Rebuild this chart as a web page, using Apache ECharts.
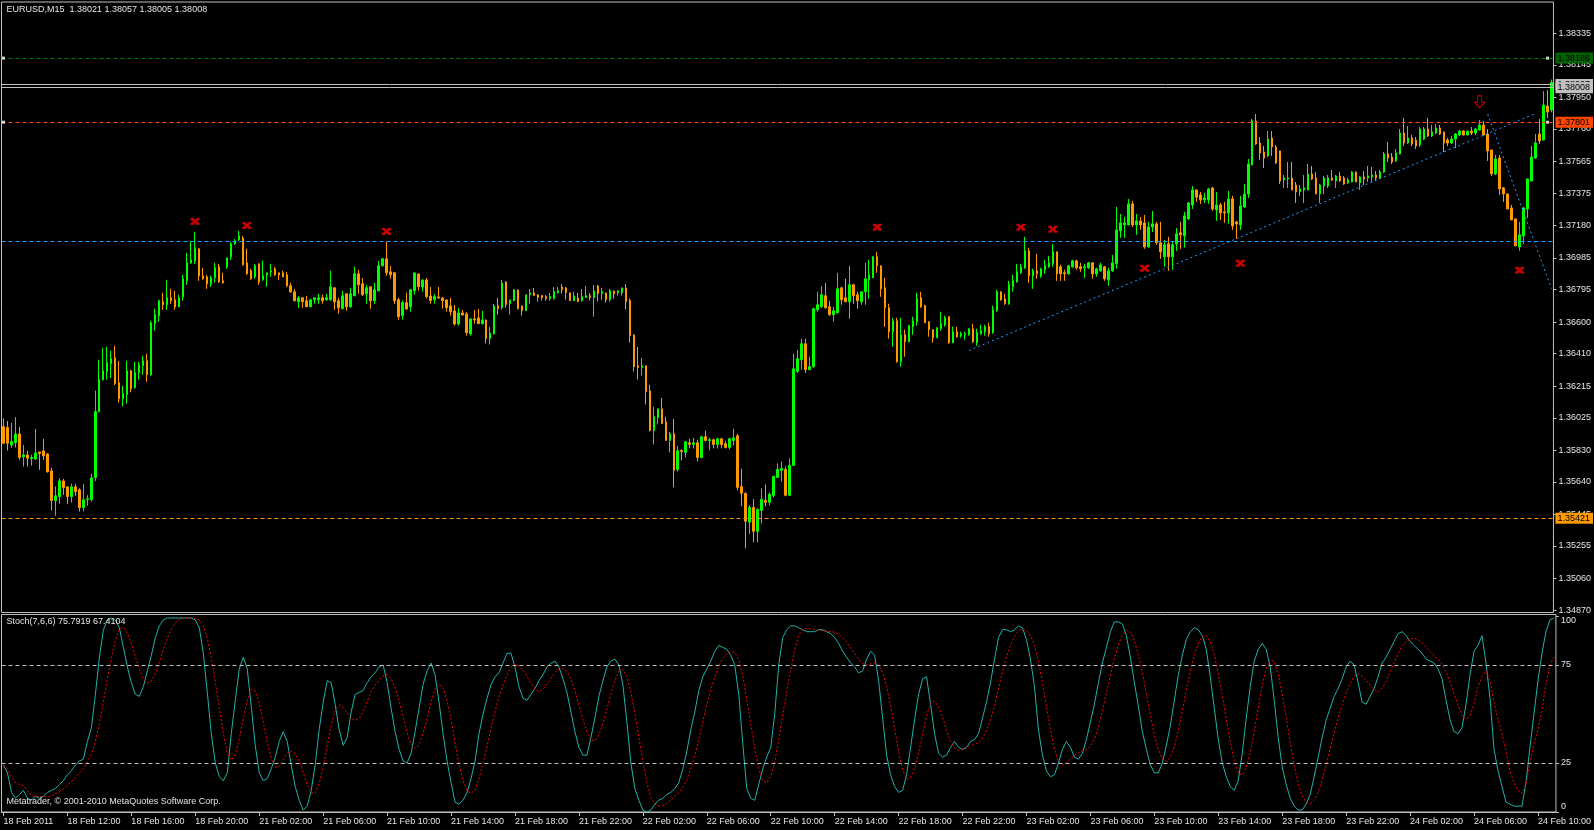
<!DOCTYPE html>
<html><head><meta charset="utf-8">
<script src="https://cdn.jsdelivr.net/npm/echarts@6/dist/echarts.min.js"></script>
<style>html,body{margin:0;padding:0;background:#000;}#c{width:1594px;height:830px;}</style>
</head><body><div id="c"></div>
<script>
// ---- DATA ----
const opens = [
1.35972,1.35966,1.35862,1.35876,1.35928,1.35790,1.35802,1.35780,1.35778,1.35820,
1.35826,1.35808,1.35706,1.35528,1.35552,1.35646,1.35610,1.35552,1.35610,1.35592,
1.35486,1.35534,1.35534,1.35666,1.36062,1.36254,1.36302,1.36350,1.36386,1.36236,
1.36140,1.36164,1.36308,1.36206,1.36296,1.36338,1.36368,1.36284,1.36590,1.36638,
1.36722,1.36704,1.36746,1.36734,1.36692,1.36752,1.36848,1.36956,1.36968,1.37040,
1.36878,1.36872,1.36830,1.36866,1.36932,1.36848,1.36932,1.36992,1.37070,1.37094,
1.37106,1.36956,1.36908,1.36872,1.36950,1.36854,1.36884,1.36902,1.36920,1.36896,
1.36896,1.36884,1.36818,1.36782,1.36722,1.36746,1.36728,1.36692,1.36734,1.36734,
1.36746,1.36734,1.36734,1.36806,1.36728,1.36680,1.36770,1.36692,1.36758,1.36890,
1.36830,1.36770,1.36812,1.36728,1.36788,1.36938,1.36980,1.36902,1.36896,1.36734,
1.36639,1.36717,1.36693,1.36789,1.36889,1.36811,1.36853,1.36757,1.36735,1.36751,
1.36745,1.36733,1.36697,1.36667,1.36589,1.36655,1.36649,1.36529,1.36619,1.36625,
1.36591,1.36613,1.36501,1.36529,1.36697,1.36687,1.36841,1.36711,1.36729,1.36793,
1.36697,1.36669,1.36765,1.36775,1.36763,1.36759,1.36753,1.36741,1.36741,1.36777,
1.36811,1.36805,1.36775,1.36729,1.36745,1.36729,1.36747,1.36759,1.36747,1.36817,
1.36771,1.36775,1.36735,1.36787,1.36777,1.36777,1.36805,1.36729,1.36523,1.36337,
1.36327,1.36337,1.36187,1.35949,1.36025,1.36079,1.36001,1.35889,1.35929,1.35715,
1.35829,1.35817,1.35875,1.35865,1.35875,1.35787,1.35911,1.35887,1.35893,1.35865,
1.35899,1.35869,1.35847,1.35889,1.35917,1.35611,1.35571,1.35397,1.35487,1.35343,
1.35469,1.35529,1.35517,1.35559,1.35667,1.35709,1.35715,1.35559,1.35739,1.36304,
1.36374,1.36470,1.36314,1.36332,1.36674,1.36692,1.36758,1.36692,1.36644,1.36656,
1.36806,1.36746,1.36722,1.36824,1.36764,1.36722,1.36782,1.36854,1.36866,1.36992,
1.36938,1.36806,1.36686,1.36542,1.36608,1.36362,1.36524,1.36482,1.36572,1.36602,
1.36746,1.36698,1.36602,1.36554,1.36506,1.36560,1.36584,1.36632,1.36476,1.36542,
1.36518,1.36524,1.36524,1.36560,1.36476,1.36530,1.36542,1.36572,1.36536,1.36668,
1.36782,1.36740,1.36710,1.36812,1.36842,1.36896,1.36926,1.37028,1.36878,1.36908,
1.36878,1.36914,1.36932,1.36950,1.37022,1.36932,1.36896,1.36890,1.36932,1.36968,
1.36932,1.36926,1.36926,1.36956,1.36890,1.36908,1.36932,1.36854,1.36908,1.36950,
1.37148,1.37184,1.37184,1.37310,1.37184,1.37208,1.37196,1.37052,1.37172,1.37190,
1.37076,1.36992,1.37070,1.36992,1.37070,1.37136,1.37118,1.37220,1.37304,1.37394,
1.37364,1.37334,1.37334,1.37406,1.37274,1.37304,1.37262,1.37256,1.37340,1.37202,
1.37184,1.37292,1.37370,1.37544,1.37808,1.37676,1.37622,1.37598,1.37706,1.37652,
1.37628,1.37454,1.37460,1.37466,1.37424,1.37382,1.37394,1.37394,1.37490,1.37466,
1.37370,1.37418,1.37418,1.37466,1.37448,1.37478,1.37466,1.37436,1.37442,1.37502,
1.37436,1.37472,1.37466,1.37472,1.37484,1.37466,1.37502,1.37610,1.37592,1.37568,
1.37610,1.37736,1.37676,1.37706,1.37694,1.37664,1.37700,1.37760,1.37718,1.37736,
1.37766,1.37742,1.37694,1.37676,1.37700,1.37724,1.37748,1.37724,1.37748,1.37736,
1.37754,1.37784,1.37730,1.37634,1.37490,1.37586,1.37406,1.37370,1.37286,1.37220,
1.37052,1.37118,1.37280,1.37448,1.37586,1.37730,1.37694,1.37898,1.37874];
const highs = [
1.36022,1.36006,1.35996,1.36030,1.35970,1.35862,1.35828,1.35802,1.35958,1.35820,
1.35898,1.35812,1.35724,1.35612,1.35662,1.35658,1.35610,1.35628,1.35628,1.35602,
1.35628,1.35560,1.35688,1.36188,1.36374,1.36446,1.36452,1.36428,1.36458,1.36366,
1.36218,1.36368,1.36314,1.36362,1.36362,1.36398,1.36410,1.36608,1.36680,1.36734,
1.36776,1.36854,1.36800,1.36788,1.36764,1.36884,1.37016,1.37088,1.37142,1.37046,
1.36926,1.36884,1.36878,1.36956,1.36950,1.36896,1.36986,1.37082,1.37100,1.37148,
1.37118,1.37040,1.36920,1.36950,1.36952,1.36968,1.36898,1.36950,1.36932,1.36898,
1.36908,1.36902,1.36836,1.36800,1.36758,1.36748,1.36758,1.36740,1.36748,1.36770,
1.36764,1.36770,1.36908,1.36808,1.36746,1.36788,1.36772,1.36806,1.36932,1.36914,
1.36866,1.36824,1.36814,1.36836,1.36968,1.36986,1.37082,1.36938,1.36902,1.36746,
1.36729,1.36777,1.36799,1.36897,1.36891,1.36855,1.36865,1.36811,1.36769,1.36811,
1.36751,1.36735,1.36745,1.36703,1.36685,1.36673,1.36661,1.36621,1.36673,1.36679,
1.36667,1.36615,1.36571,1.36709,1.36745,1.36853,1.36847,1.36735,1.36799,1.36795,
1.36699,1.36765,1.36799,1.36805,1.36769,1.36763,1.36763,1.36775,1.36811,1.36811,
1.36829,1.36811,1.36777,1.36781,1.36775,1.36799,1.36817,1.36775,1.36823,1.36823,
1.36805,1.36777,1.36799,1.36789,1.36793,1.36807,1.36829,1.36741,1.36525,1.36451,
1.36385,1.36339,1.36223,1.36091,1.36081,1.36145,1.36031,1.35941,1.36019,1.35857,
1.35835,1.35887,1.35899,1.35905,1.35893,1.35917,1.35947,1.35905,1.35899,1.35905,
1.35901,1.35887,1.35905,1.35959,1.35929,1.35719,1.35577,1.35499,1.35535,1.35481,
1.35601,1.35625,1.35577,1.35675,1.35751,1.35763,1.35733,1.35781,1.36410,1.36434,
1.36500,1.36500,1.36392,1.36686,1.36782,1.36818,1.36836,1.36728,1.36692,1.36896,
1.36812,1.36860,1.36938,1.36830,1.36782,1.36784,1.36956,1.36974,1.36998,1.37022,
1.36940,1.36866,1.36710,1.36626,1.36626,1.36626,1.36554,1.36584,1.36632,1.36776,
1.36782,1.36704,1.36604,1.36556,1.36568,1.36662,1.36638,1.36634,1.36572,1.36572,
1.36542,1.36542,1.36562,1.36590,1.36560,1.36584,1.36584,1.36596,1.36698,1.36794,
1.36784,1.36770,1.36848,1.36884,1.36950,1.36950,1.37112,1.37046,1.36920,1.37010,
1.36926,1.36974,1.36998,1.37070,1.37024,1.36944,1.36914,1.36944,1.36974,1.36974,
1.36956,1.36950,1.36962,1.36958,1.36926,1.36956,1.36938,1.36926,1.37004,1.37292,
1.37250,1.37232,1.37340,1.37328,1.37250,1.37232,1.37244,1.37202,1.37268,1.37202,
1.37202,1.37094,1.37112,1.37082,1.37166,1.37202,1.37262,1.37322,1.37418,1.37396,
1.37382,1.37376,1.37406,1.37412,1.37382,1.37316,1.37322,1.37388,1.37358,1.37208,
1.37358,1.37430,1.37580,1.37820,1.37850,1.37712,1.37658,1.37748,1.37748,1.37664,
1.37630,1.37484,1.37562,1.37562,1.37442,1.37424,1.37484,1.37550,1.37538,1.37502,
1.37430,1.37478,1.37484,1.37514,1.37484,1.37502,1.37478,1.37466,1.37508,1.37504,
1.37478,1.37508,1.37538,1.37532,1.37508,1.37514,1.37622,1.37682,1.37616,1.37640,
1.37760,1.37826,1.37778,1.37724,1.37712,1.37772,1.37772,1.37826,1.37784,1.37790,
1.37784,1.37744,1.37706,1.37718,1.37736,1.37754,1.37754,1.37750,1.37772,1.37766,
1.37814,1.37808,1.37760,1.37636,1.37604,1.37604,1.37412,1.37372,1.37304,1.37222,
1.37202,1.37292,1.37462,1.37658,1.37730,1.37820,1.37988,1.37994,1.38057];
const lows = [
1.35868,1.35828,1.35846,1.35846,1.35772,1.35732,1.35732,1.35738,1.35772,1.35712,
1.35772,1.35696,1.35468,1.35436,1.35508,1.35562,1.35508,1.35516,1.35556,1.35462,
1.35462,1.35496,1.35522,1.35644,1.36058,1.36250,1.36254,1.36264,1.36222,1.36116,
1.36094,1.36110,1.36178,1.36200,1.36254,1.36284,1.36242,1.36278,1.36548,1.36602,
1.36674,1.36674,1.36710,1.36674,1.36690,1.36728,1.36824,1.36950,1.36950,1.36848,
1.36854,1.36800,1.36812,1.36836,1.36836,1.36830,1.36920,1.36974,1.37064,1.37088,
1.36940,1.36884,1.36854,1.36860,1.36824,1.36848,1.36812,1.36872,1.36878,1.36854,
1.36870,1.36812,1.36776,1.36726,1.36686,1.36686,1.36690,1.36690,1.36710,1.36710,
1.36710,1.36728,1.36728,1.36674,1.36650,1.36678,1.36668,1.36686,1.36756,1.36770,
1.36758,1.36710,1.36680,1.36710,1.36786,1.36936,1.36878,1.36860,1.36710,1.36614,
1.36615,1.36673,1.36663,1.36765,1.36789,1.36783,1.36741,1.36711,1.36711,1.36741,
1.36681,1.36663,1.36639,1.36579,1.36579,1.36639,1.36519,1.36519,1.36591,1.36589,
1.36585,1.36471,1.36465,1.36527,1.36645,1.36675,1.36687,1.36645,1.36727,1.36675,
1.36639,1.36667,1.36711,1.36757,1.36723,1.36729,1.36729,1.36729,1.36735,1.36771,
1.36771,1.36735,1.36727,1.36727,1.36721,1.36723,1.36745,1.36729,1.36633,1.36723,
1.36733,1.36717,1.36723,1.36741,1.36759,1.36759,1.36675,1.36477,1.36303,1.36255,
1.36279,1.36105,1.35943,1.35865,1.35985,1.35989,1.35887,1.35817,1.35607,1.35703,
1.35769,1.35787,1.35841,1.35841,1.35763,1.35781,1.35883,1.35829,1.35841,1.35841,
1.35841,1.35841,1.35835,1.35859,1.35589,1.35493,1.35241,1.35327,1.35277,1.35277,
1.35391,1.35493,1.35499,1.35547,1.35665,1.35643,1.35553,1.35557,1.35735,1.36294,
1.36314,1.36294,1.36312,1.36326,1.36662,1.36686,1.36680,1.36638,1.36602,1.36654,
1.36704,1.36720,1.36620,1.36710,1.36680,1.36704,1.36704,1.36740,1.36864,1.36896,
1.36752,1.36572,1.36500,1.36452,1.36356,1.36332,1.36392,1.36480,1.36524,1.36578,
1.36686,1.36594,1.36512,1.36476,1.36504,1.36548,1.36572,1.36470,1.36474,1.36506,
1.36506,1.36494,1.36518,1.36476,1.36458,1.36524,1.36518,1.36512,1.36530,1.36662,
1.36728,1.36704,1.36704,1.36782,1.36836,1.36890,1.36920,1.36836,1.36800,1.36860,
1.36866,1.36890,1.36926,1.36932,1.36848,1.36848,1.36848,1.36884,1.36926,1.36914,
1.36902,1.36866,1.36920,1.36860,1.36872,1.36902,1.36848,1.36818,1.36902,1.36920,
1.37106,1.37106,1.37182,1.37172,1.37124,1.37154,1.37040,1.37046,1.37142,1.37064,
1.36980,1.36932,1.36908,1.36914,1.37028,1.37040,1.37048,1.37214,1.37280,1.37322,
1.37310,1.37316,1.37310,1.37268,1.37208,1.37214,1.37196,1.37190,1.37154,1.37100,
1.37154,1.37286,1.37346,1.37542,1.37664,1.37574,1.37526,1.37592,1.37598,1.37550,
1.37430,1.37406,1.37406,1.37392,1.37316,1.37358,1.37316,1.37392,1.37454,1.37368,
1.37316,1.37370,1.37406,1.37448,1.37406,1.37442,1.37424,1.37430,1.37440,1.37440,
1.37394,1.37424,1.37442,1.37442,1.37454,1.37460,1.37496,1.37562,1.37550,1.37562,
1.37608,1.37658,1.37670,1.37658,1.37640,1.37652,1.37694,1.37712,1.37712,1.37730,
1.37724,1.37622,1.37658,1.37670,1.37646,1.37718,1.37722,1.37722,1.37724,1.37724,
1.37752,1.37722,1.37568,1.37478,1.37484,1.37364,1.37322,1.37278,1.37212,1.37056,
1.37028,1.37070,1.37226,1.37446,1.37580,1.37670,1.37692,1.37826,1.37860];
const closes = [
1.35872,1.35872,1.35882,1.35928,1.35786,1.35802,1.35782,1.35786,1.35814,1.35810,
1.35796,1.35700,1.35528,1.35556,1.35646,1.35606,1.35552,1.35610,1.35582,1.35486,
1.35532,1.35538,1.35664,1.36062,1.36254,1.36308,1.36356,1.36380,1.36230,1.36140,
1.36170,1.36308,1.36200,1.36296,1.36344,1.36368,1.36284,1.36596,1.36644,1.36728,
1.36704,1.36746,1.36728,1.36692,1.36746,1.36860,1.36956,1.36974,1.37046,1.36878,
1.36860,1.36830,1.36866,1.36926,1.36842,1.36836,1.36986,1.37070,1.37088,1.37118,
1.36944,1.36890,1.36860,1.36938,1.36842,1.36878,1.36896,1.36908,1.36884,1.36884,
1.36872,1.36818,1.36782,1.36728,1.36746,1.36722,1.36692,1.36734,1.36746,1.36746,
1.36728,1.36746,1.36812,1.36722,1.36686,1.36758,1.36692,1.36770,1.36890,1.36824,
1.36764,1.36806,1.36728,1.36794,1.36938,1.36980,1.36896,1.36884,1.36728,1.36632,
1.36717,1.36679,1.36793,1.36895,1.36813,1.36853,1.36753,1.36729,1.36753,1.36745,
1.36729,1.36687,1.36663,1.36589,1.36655,1.36643,1.36537,1.36619,1.36613,1.36591,
1.36613,1.36501,1.36535,1.36697,1.36681,1.36835,1.36705,1.36733,1.36793,1.36681,
1.36669,1.36763,1.36775,1.36759,1.36747,1.36747,1.36741,1.36753,1.36783,1.36789,
1.36795,1.36777,1.36729,1.36757,1.36723,1.36753,1.36759,1.36747,1.36787,1.36771,
1.36783,1.36735,1.36789,1.36771,1.36787,1.36805,1.36723,1.36519,1.36333,1.36327,
1.36337,1.36183,1.35949,1.36031,1.36079,1.35991,1.35889,1.35929,1.35709,1.35827,
1.35823,1.35881,1.35865,1.35875,1.35787,1.35911,1.35889,1.35893,1.35865,1.35899,
1.35865,1.35847,1.35899,1.35905,1.35607,1.35571,1.35403,1.35487,1.35343,1.35475,
1.35535,1.35517,1.35565,1.35673,1.35715,1.35721,1.35559,1.35739,1.36319,1.36380,
1.36470,1.36314,1.36332,1.36680,1.36704,1.36764,1.36686,1.36644,1.36668,1.36800,
1.36734,1.36722,1.36824,1.36758,1.36728,1.36782,1.36860,1.36884,1.36992,1.36938,
1.36800,1.36686,1.36542,1.36608,1.36362,1.36524,1.36482,1.36578,1.36608,1.36740,
1.36692,1.36596,1.36554,1.36506,1.36566,1.36590,1.36626,1.36476,1.36542,1.36512,
1.36530,1.36530,1.36560,1.36482,1.36536,1.36548,1.36572,1.36530,1.36674,1.36782,
1.36734,1.36710,1.36824,1.36848,1.36902,1.36932,1.37028,1.36878,1.36908,1.36890,
1.36920,1.36938,1.36956,1.37022,1.36890,1.36890,1.36890,1.36938,1.36968,1.36926,
1.36920,1.36932,1.36956,1.36890,1.36920,1.36944,1.36860,1.36908,1.36956,1.37154,
1.37196,1.37196,1.37310,1.37184,1.37208,1.37184,1.37052,1.37172,1.37190,1.37076,
1.37022,1.37064,1.36992,1.37064,1.37130,1.37124,1.37238,1.37316,1.37394,1.37350,
1.37334,1.37346,1.37400,1.37280,1.37304,1.37256,1.37256,1.37340,1.37178,1.37190,
1.37298,1.37370,1.37550,1.37808,1.37670,1.37616,1.37586,1.37700,1.37652,1.37556,
1.37448,1.37466,1.37466,1.37394,1.37382,1.37400,1.37406,1.37490,1.37460,1.37370,
1.37424,1.37466,1.37466,1.37454,1.37478,1.37448,1.37430,1.37454,1.37502,1.37442,
1.37472,1.37460,1.37478,1.37484,1.37466,1.37502,1.37610,1.37586,1.37562,1.37616,
1.37736,1.37676,1.37706,1.37670,1.37658,1.37760,1.37760,1.37718,1.37742,1.37766,
1.37730,1.37676,1.37676,1.37700,1.37730,1.37748,1.37724,1.37748,1.37736,1.37760,
1.37784,1.37724,1.37628,1.37490,1.37580,1.37400,1.37370,1.37280,1.37214,1.37058,
1.37124,1.37286,1.37460,1.37592,1.37676,1.37688,1.37904,1.37862,1.38040];

// Stochastic (7,6,6): main line and signal line, one value per bar
const stochK = [
24,20,10,7,9,11,7,6,8,7,
8,10,11,12,14,16,19,21,24,26,
27,36,43,60,79,93,98,99,98,94,
84,74,66,60,59,64,72,80,89,95,
98,99,99,99,99,99,99,99,98,94,
81,61,40,25,18,16,20,40,57,73,
79,73,54,34,20,16,17,22,28,36,
41,36,24,13,6,1,3,11,24,42,
56,67,66,55,42,34,38,51,60,61,
62,66,69,71,74,75,66,53,41,32,
26,25,30,41,53,65,72,76,70,56,
40,26,15,5,4,6,10,17,26,40,
50,58,65,69,71,76,81,81,74,64,
58,57,60,63,67,70,74,76,77,74,
68,61,51,41,33,29,29,38,48,59,
67,74,77,78,75,65,46,25,12,6,
1,0,1,4,6,7,9,10,12,15,
22,31,42,51,62,69,73,77,82,85,
84,83,80,75,60,35,12,7,6,14,
22,28,33,50,75,89,93,95,95,94,
93,92,92,92,93,93,92,91,89,86,
82,79,76,74,71,72,78,82,80,67,
48,29,19,13,10,11,19,33,47,60,
68,69,55,40,30,28,29,33,36,33,
32,33,36,37,40,48,56,66,78,89,
93,93,92,93,95,94,88,78,64,42,
29,21,18,19,25,32,36,33,28,27,
30,37,46,55,66,76,84,92,97,97,
96,90,79,66,54,41,32,24,20,20,
25,34,44,57,70,80,88,92,94,93,
90,83,69,53,37,25,18,13,11,16,
30,48,64,77,83,86,83,74,57,38,
23,14,7,3,1,1,4,9,18,28,
38,47,53,59,63,68,74,77,75,66,
56,55,59,63,69,76,79,83,87,91,
92,90,87,85,83,81,78,77,76,73,
68,57,47,41,40,43,55,70,82,85,
90,76,58,32,21,13,5,4,3,3,
3,15,33,50,67,81,92,98,99];
const stochD = [
24,22,18,15,14,13.5,10.7,8.3,8,8,
7.8,7.7,8.3,9.3,10.3,11.8,13.7,15.5,17.7,20,
22.2,25.5,29.5,36,45.2,56.3,68.2,78.7,87.8,93.5,
94.3,91.2,85.8,79.3,72.8,67.8,65.8,66.8,70.7,76.5,
83,88.8,93.3,96.5,98.2,98.8,99,99,98.8,98,
95,88.7,78.8,66.5,53.2,40.2,30,26.5,29.3,37.3,
47.5,57,62.7,61.7,55.5,46,35.7,27.2,22.8,23.2,
26.7,30,31.2,29.7,26,20.2,13.8,9.7,9.7,14.5,
22.8,33.8,44.3,51.7,54.7,53.3,50.3,47.7,46.7,47.7,
51,56.3,61.5,64.8,67.2,69.5,70.2,68,63.3,56.8,
48.8,40.5,34.5,32.5,34.5,40,47.7,56.2,62.8,65.3,
63.2,56.7,47.2,35.3,24.3,16,11,9.5,11.3,17.2,
24.8,33.5,42.7,51.3,58.8,64.8,70,73.8,75.3,74.5,
72.3,69.2,65.7,62.7,61.5,62.5,65.2,68.3,71.2,73,
73.2,71.7,67.8,62,54.7,47.2,40.7,36.8,36.3,39.3,
45,52.5,60.5,67.2,71.7,72.7,69.2,61,50.2,38.2,
25.8,15,7.5,4,3,3.2,4.5,6.2,8,9.8,
12.5,16.5,22,28.8,37.2,46.2,54.7,62.3,69,74.7,
78.3,80.7,81.8,81.5,77.8,69.5,57.5,44.8,32.5,22.3,
16,14.8,18.3,25.5,37,49.5,61.3,72.5,82.8,90.2,
93.2,93.7,93.5,93,92.7,92.5,92.3,92.2,91.7,90.7,
88.8,86.5,83.8,81,78,75.7,75,75.5,76.2,75,
71.2,64,54.2,42.7,31,21.7,16.8,17.5,22.2,30,
39.7,49.3,55.3,56.5,53.7,48.3,41.8,35.8,32.7,31.5,
31.8,32.7,33.8,34.5,35.2,37.7,41.7,47.2,54.2,62.8,
71.7,79.2,85.2,89.7,92.5,93.3,92.5,90,85.3,76.8,
65.8,53.7,42,32.2,25.7,24,25.2,27.2,28.8,30.2,
31,31.8,33.5,37.2,43.5,51.7,60.7,69.8,78.3,85.3,
90.3,92.7,91.8,87.5,80.3,71,60.3,49.3,39.5,31.8,
27,25.8,27.8,33.3,41.7,51.7,62.2,71.8,80.2,86.2,
89.5,90,86.8,80.3,70.8,59.5,47.5,35.8,26.2,20,
18.8,22.7,30.3,41,53,64.7,73.5,77.8,76.7,70.2,
60.2,48.2,35.5,23.7,14.3,8.2,5,4.2,6,10.2,
16.3,24,32.2,40.5,48,54.7,60.7,65.7,69.3,70.5,
69.3,67.2,64.7,62.3,61.3,63,66.8,71.5,76.2,80.8,
84.7,87,88.3,88.7,88,86.3,84,81.8,80,78,
75.5,71.5,66.3,60.3,54.3,49.3,47.2,49.3,55.2,64,
69,72,67,56,47,40,31,21,15,11,
9.5,14,25,35,42,52,65,75,79];

const xTickLabels = ['18 Feb 2011','18 Feb 12:00','18 Feb 16:00','18 Feb 20:00','21 Feb 02:00','21 Feb 06:00',
 '21 Feb 10:00','21 Feb 14:00','21 Feb 18:00','21 Feb 22:00','22 Feb 02:00','22 Feb 06:00','22 Feb 10:00',
 '22 Feb 14:00','22 Feb 18:00','22 Feb 22:00','23 Feb 02:00','23 Feb 06:00','23 Feb 10:00','23 Feb 14:00',
 '23 Feb 18:00','23 Feb 22:00','24 Feb 02:00','24 Feb 06:00','24 Feb 10:00'];
const priceTickLabels = ['1.34870','1.35060','1.35255','1.35445','1.35640','1.35830','1.36025','1.36215',
 '1.36410','1.36600','1.36795','1.36985','1.37180','1.37375','1.37565','1.37760','1.37950','1.38145','1.38335'];
const stochTickLabels = ['0','25','75','100'];

// horizontal price levels: green, ask, bid, orange-red, blue, orange
const levelPrices = [1.38186, 1.38027, 1.38008, 1.37801, 1.37087, 1.35421];
const levelLabels = ['1.38186', '1.38027', '1.38008', '1.37801', '', '1.35421'];
// trend lines [barIndex, price]
const trend1 = [[242, 1.36429], [384, 1.37853]];
const trend2 = [[372, 1.37850], [388, 1.36801]];
// red marks
const markBars = [48, 61, 96, 219, 255, 263, 286, 310, 380];
const markPrices = [1.37204, 1.37180, 1.37144, 1.37170, 1.37170, 1.37158, 1.36924, 1.36954, 1.36912];
const arrowBar = [370];
const arrowPrice = [1.37924];
const stochLevels = [25, 75];

const titleText = 'EURUSD,M15  1.38021 1.38057 1.38005 1.38008';
const stochTitle = 'Stoch(7,6,6) 75.7919 67.4104';
const footer = 'Metatrader, \u00a9 2001-2010 MetaQuotes Software Corp.';

// ---- CHART ----
const FONT = 'Liberation Sans';
const TXT = '#e4e4e4';
const BORDER = '#c0c0c0';
const cats = opens.map((_, i) => String(i));
const candleData = opens.map((o, i) => [o, closes[i], lows[i], highs[i]]);

const levelStyles = [
  {color: '#008000', type: [4, 3], bg: '#006400'},
  {color: '#c0c0c0', type: 'solid', bg: '#c0c0c0'},
  {color: '#c0c0c0', type: 'solid', bg: '#c0c0c0'},
  {color: '#ff4a10', type: [4, 3], bg: '#ff4500'},
  {color: '#1e9eff', type: [4, 3], bg: null},
  {color: '#ff9900', type: [4, 3], bg: '#ff9900'}
];
const levelMarks = levelPrices.map((p, i) => {
  const s = levelStyles[i];
  return {
    yAxis: p,
    lineStyle: {color: s.color, type: s.type, width: 1},
    label: levelLabels[i] ? {show: true, position: 'end', distance: 2, formatter: levelLabels[i],
      backgroundColor: s.bg, color: '#000', fontSize: 9, fontFamily: FONT, padding: [1, 3, 0, 2], lineHeight: 10} : {show: false}
  };
});

const chart = echarts.init(document.getElementById('c'), null, {renderer: 'canvas'});
const tStyle = {color: TXT, fontSize: 9, fontWeight: 'normal', fontFamily: FONT};
chart.setOption({
  backgroundColor: '#000',
  animation: false,
  textStyle: {fontFamily: FONT},
  title: [
    {text: titleText, left: 6.5, top: 5, padding: 0, textStyle: tStyle},
    {text: stochTitle, left: 6.5, top: 617.5, padding: 0, textStyle: tStyle},
    {text: footer, left: 6.5, top: 797.5, padding: 0, textStyle: tStyle}
  ],
  grid: [
    {left: 1.5, right: 36.5, top: 2, bottom: 217.5, show: true, borderColor: BORDER, borderWidth: 1, backgroundColor: 'transparent'},
    {left: 1.5, right: 36.5, top: 614.5, bottom: 18, show: true, borderColor: BORDER, borderWidth: 1, backgroundColor: 'transparent'}
  ],
  xAxis: [
    {type: 'category', gridIndex: 0, data: cats, boundaryGap: true, show: false},
    {type: 'category', gridIndex: 1, data: cats, boundaryGap: true,
      axisLine: {show: true, lineStyle: {color: BORDER}},
      axisTick: {show: true, interval: 15, alignWithLabel: true, length: 4, lineStyle: {color: BORDER}},
      axisLabel: {interval: 15, color: TXT, fontSize: 9, fontFamily: FONT, align: 'left', margin: 5,
        formatter: (v, i) => xTickLabels[Math.round(i / 16)] || ''},
      splitLine: {show: false}}
  ],
  yAxis: [
    {type: 'value', gridIndex: 0, position: 'right', min: 1.348552, max: 1.385231,
      axisLine: {show: false}, splitLine: {show: false},
      axisTick: {show: true, customValues: priceTickLabels.map(Number), length: 3, lineStyle: {color: BORDER}},
      axisLabel: {customValues: priceTickLabels.map(Number), color: TXT, fontSize: 9, fontFamily: FONT, margin: 5,
        formatter: (v) => v.toFixed(5)}},
    {type: 'value', gridIndex: 1, position: 'right', min: 0, max: 100.77,
      axisLine: {show: false}, splitLine: {show: false},
      axisTick: {show: true, customValues: stochTickLabels.map(Number), length: 3, lineStyle: {color: BORDER}},
      axisLabel: {customValues: stochTickLabels.map(Number), color: TXT, fontSize: 9, fontFamily: FONT, margin: 5,
        formatter: (v) => v === 0 ? '{lo|0}' : (v === 100 ? '{hi|100}' : String(v)),
        rich: {lo: {padding: [0, 0, 11, 0], color: TXT, fontSize: 9}, hi: {padding: [9, 0, 0, 0], color: TXT, fontSize: 9}}}}
  ],
  series: [
    {type: 'line', name: 'levels', xAxisIndex: 0, yAxisIndex: 0, data: [], z: 1,
      markLine: {silent: true, precision: 5, symbol: ['none', 'none'], animation: false, data: levelMarks}},
    {type: 'candlestick', name: 'EURUSD', xAxisIndex: 0, yAxisIndex: 0, data: candleData, z: 3,
      barWidth: 2,
      itemStyle: {color: '#00ff00', color0: '#ff9900', borderColor: '#00ff00', borderColor0: '#ff9900', borderColorDoji: '#00ff00', borderWidth: 1}},
    {type: 'line', name: 'trend1', xAxisIndex: 0, yAxisIndex: 0, data: trend1, symbol: 'none', z: 4,
      lineStyle: {color: '#1e9eff', width: 1, type: [2, 3]}},
    {type: 'line', name: 'trend2', xAxisIndex: 0, yAxisIndex: 0, data: trend2, symbol: 'none', z: 4,
      lineStyle: {color: '#1e9eff', width: 1, type: [2, 3]}},
    {type: 'scatter', name: 'marks', xAxisIndex: 0, yAxisIndex: 0, z: 5,
      data: markBars.map((b, i) => [b, markPrices[i]]),
      symbol: 'path://M0,0 H3 L5,2 L7,0 H10 V2 L7,4 L10,6 V8 H7 L5,6 L3,8 H0 V6 L3,4 L0,2 Z',
      symbolSize: [9, 7], itemStyle: {color: '#ff0000'}},
    {type: 'scatter', name: 'arrow', xAxisIndex: 0, yAxisIndex: 0, z: 5,
      data: arrowBar.map((b, i) => [b, arrowPrice[i]]),
      symbol: 'path://M3,0 L7,0 L7,6 L10,6 L5,11 L0,6 L3,6 Z', symbolSize: [10, 12],
      itemStyle: {color: 'rgba(0,0,0,0)', borderColor: '#ff0000', borderWidth: 1}},
    {type: 'scatter', name: 'anchors', xAxisIndex: 0, yAxisIndex: 0, z: 6,
      data: [[0, levelPrices[0]], [387, levelPrices[0]], [0, levelPrices[3]], [387, levelPrices[3]]],
      symbol: 'rect', symbolSize: 3, itemStyle: {color: '#ffffff'}},
    {type: 'line', name: '%K', xAxisIndex: 1, yAxisIndex: 1, data: stochK, symbol: 'none', z: 3,
      lineStyle: {color: '#20b2aa', width: 1},
      markLine: {silent: true, precision: 2, symbol: ['none', 'none'], label: {show: false},
        lineStyle: {color: '#c0c0c0', type: [4, 3], width: 1},
        data: stochLevels.map(v => ({yAxis: v}))}},
    {type: 'line', name: '%D', xAxisIndex: 1, yAxisIndex: 1, data: stochD, symbol: 'none', z: 4,
      lineStyle: {color: '#ff0000', width: 1, type: [2, 2]}}
  ]
});
</script>
</body></html>
